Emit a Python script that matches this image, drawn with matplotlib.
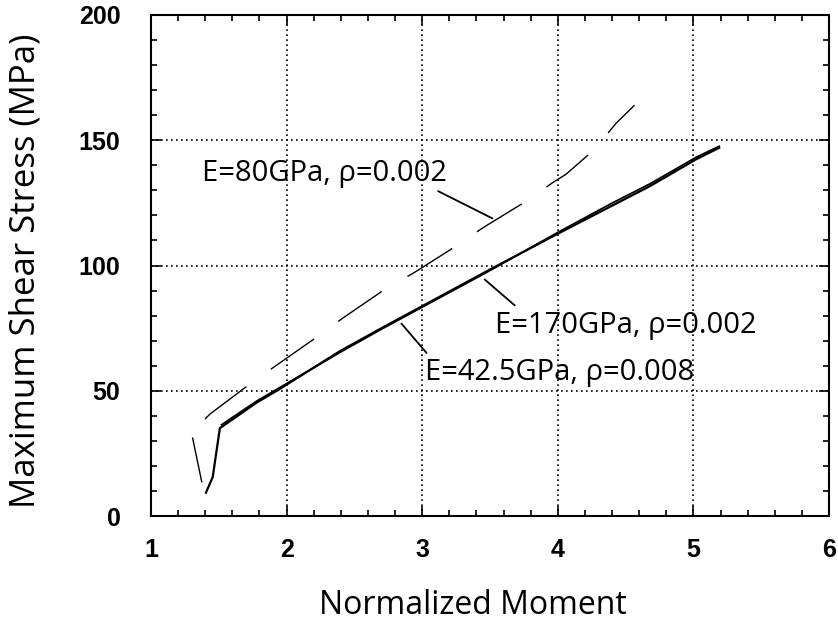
import matplotlib
matplotlib.use("Agg")
import matplotlib.pyplot as plt
from matplotlib.ticker import MultipleLocator

# E=170GPa, rho=0.002 (solid)
x170 = [1.405, 1.455, 1.508, 1.533, 1.78, 1.94, 2.39, 2.69, 3.50, 3.99, 4.68, 5.02, 5.19]
y170 = [9.3, 15.5, 35.1, 36.0, 45.3, 50.4, 65.7, 74.7, 98.4, 112.4, 131.7, 142.4, 147.0]

# E=42.5GPa, rho=0.008 (solid, nearly on top of the other one)
x425 = [1.52, 1.78, 2.39, 2.69, 3.50, 3.99, 4.40, 4.68, 5.02, 5.19]
y425 = [36.4, 45.9, 65.2, 74.3, 98.0, 112.9, 124.9, 132.6, 143.2, 147.6]

# E=80GPa, rho=0.002 (dashed)
x80 = [1.307, 1.374, 1.398, 1.435, 1.754, 1.921, 2.24, 2.417, 2.741, 2.93,
       3.257, 3.449, 3.78, 3.96, 4.06, 4.272, 4.43, 4.566]
y80 = [31.1, 13.7, 38.7, 40.7, 53.7, 60.0, 72.1, 79.1, 91.1, 96.8,
       108.0, 115.1, 126.1, 133.0, 136.4, 146.4, 156.8, 164.0]

labels = ["E=80GPa, \u03c1=0.002", "E=170GPa, \u03c1=0.002", "E=42.5GPa, \u03c1=0.008"]
label_pos = [(1.374, 133.6), (3.535, 73.2), (3.019, 54.4)]
leaders = [((3.518, 118.8), (3.117, 129.7)),
           ((3.461, 94.4), (3.682, 84.1)),
           ((2.847, 76.8), (3.032, 65.1))]

fig = plt.figure(figsize=(8.38, 6.23), dpi=100)
ax = fig.add_axes([151 / 838, 1 - 516 / 623, (829 - 151) / 838, (516 - 15) / 623])

ax.plot(x170, y170, color="black", lw=1.6, solid_joinstyle="round")
ax.plot(x425, y425, color="black", lw=1.3)
ax.plot(x80[:2], y80[:2], color="black", lw=1.0)
ax.plot(x80[2:], y80[2:], color="black", lw=1.0, dashes=(38, 21.5))

for txt, (tx, ty) in zip(labels, label_pos):
    ax.text(tx, ty, txt, fontsize=21, family="Open Sans", va="baseline", ha="left")
for (p0, p1) in leaders:
    ax.annotate("", xy=p0, xytext=p1,
                arrowprops=dict(arrowstyle="-", color="black", lw=1.3,
                                shrinkA=0, shrinkB=0))

ax.set_xlim(1, 6)
ax.set_ylim(0, 200)
ax.xaxis.set_major_locator(MultipleLocator(1))
ax.xaxis.set_minor_locator(MultipleLocator(0.2))
ax.yaxis.set_major_locator(MultipleLocator(50))
ax.yaxis.set_minor_locator(MultipleLocator(10))
ax.tick_params(which="both", direction="in", top=True, right=True, width=1.2)
ax.tick_params(which="major", length=7)
ax.tick_params(which="minor", length=4.5)
ax.tick_params(axis="x", which="major", pad=16)
ax.tick_params(axis="y", which="major", pad=22)
for lab in ax.get_xticklabels() + ax.get_yticklabels():
    lab.set_family("Liberation Sans")
    lab.set_fontweight("bold")
    lab.set_fontsize(18)

ax.grid(True, which="major", color="black", linestyle=(0, (1, 2)), lw=1.2)
for s in ax.spines.values():
    s.set_linewidth(1.5)

ax.set_xlabel("Normalized Moment", fontsize=23, family="Open Sans")
ax.set_ylabel("Maximum Shear Stress (MPa)", fontsize=25, family="Open Sans")
ax.xaxis.set_label_coords(0.475, -0.145)
ax.yaxis.set_label_coords(-0.16, 0.49)

fig.savefig("out.png", dpi=100)
